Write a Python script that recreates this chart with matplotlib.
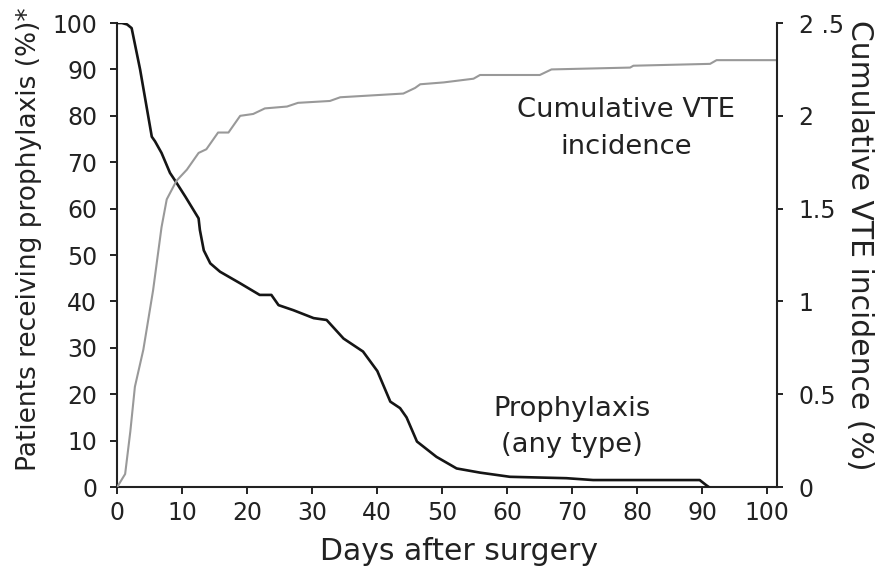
import matplotlib
matplotlib.use("Agg")
import matplotlib.pyplot as plt

# Prophylaxis (any type), % of patients (left axis)
proph_days = [0, 0.7, 1.5, 2.2, 3.5, 5.3, 5.8, 6.8, 8.1, 9.0, 10.5, 12.5, 12.7, 13.3, 14.3,
              15.8, 18.9, 21.9, 23.7, 24.8, 27.1, 30.2, 32.2, 34.8, 37.8, 40.0, 42.0, 43.5,
              44.5, 46.1, 49.1, 52.2, 55.8, 60.4, 69.1, 73.2, 80.9, 89.6, 90.6, 91.0]
proph_pct = [100, 100, 99.7, 98.9, 90, 75.5, 74.5, 72, 67.7, 65.8, 62.5, 57.9, 55.4, 51, 48.2,
             46.4, 43.9, 41.4, 41.4, 39.2, 38.1, 36.4, 36.0, 32.0, 29.2, 25, 18.4, 17.0,
             15, 9.8, 6.5, 4.0, 3.1, 2.2, 1.9, 1.5, 1.5, 1.5, 0.4, 0]

# Cumulative VTE incidence, % (right axis)
vte_days = [0, 0.15, 1.2, 2.0, 2.7, 4.0, 5.5, 6.8, 7.6, 9.1, 10.7, 12.5, 13.7, 15.5, 17.1,
            18.9, 20.9, 22.7, 26.1, 27.8, 32.7, 34.3, 44.0, 45.8, 46.6, 50.2, 54.8, 55.8,
            65.0, 66.8, 78.9, 79.4, 91.2, 92.2, 101.5]
vte_pct = [0, 0.01, 0.07, 0.3, 0.54, 0.74, 1.06, 1.40, 1.55, 1.65, 1.71, 1.80, 1.82, 1.91, 1.91,
           2.00, 2.01, 2.04, 2.05, 2.07, 2.08, 2.10, 2.12, 2.15, 2.17, 2.18, 2.20, 2.22,
           2.22, 2.25, 2.26, 2.27, 2.28, 2.30, 2.30]

x_ticks = [0, 10, 20, 30, 40, 50, 60, 70, 80, 90, 100]
left_ticks = [0, 10, 20, 30, 40, 50, 60, 70, 80, 90, 100]
right_ticks = [0, 0.5, 1, 1.5, 2, 2.5]
right_tick_labels = ["0", "0.5", "1", "1.5", "2", "2 .5"]

plt.rcParams['font.family'] = ['DejaVu Sans']

fig = plt.figure(figsize=(8.77, 5.70), dpi=100)
ax = fig.add_axes([0.1338, 0.1456, 0.886 - 0.1338, 0.9596 - 0.1456])
ax2 = ax.twinx()

spine_c = '#222222'
txt_c = '#222222'
fs_tick = 17

ax.plot(proph_days, proph_pct, color='#151515', lw=1.9, zorder=3)
ax2.plot(vte_days, vte_pct, color='#999999', lw=1.5, zorder=2)

ax.set_xlim(0, 101.5)
ax.set_ylim(0, 100)
ax2.set_ylim(0, 2.5)

ax.set_xticks(x_ticks)
ax.set_yticks(left_ticks)
ax2.set_yticks(right_ticks)
ax2.set_yticklabels(right_tick_labels)

for a in (ax, ax2):
    a.spines['top'].set_visible(False)
    for s in a.spines.values():
        s.set_color(spine_c)
        s.set_linewidth(1.5)
ax2.spines['left'].set_visible(False)
ax2.spines['bottom'].set_visible(False)
ax.spines['right'].set_visible(False)

ax.tick_params(axis='x', direction='out', length=5, width=1.4, color=spine_c,
               labelsize=fs_tick, labelcolor=txt_c, pad=5)
ax.tick_params(axis='y', direction='out', length=5, width=1.4, color=spine_c,
               labelsize=fs_tick, labelcolor=txt_c, pad=9.5)
ax2.tick_params(axis='y', direction='out', length=4.5, width=1.4, color=spine_c,
                labelsize=fs_tick, labelcolor=txt_c, pad=11)

ax.set_xlabel('Days after surgery', fontsize=21.5, color=txt_c)
ax.xaxis.label.set_va('center')
ax.xaxis.set_label_coords(0.518, -0.138)

ax.set_ylabel('Patients receiving prophylaxis (%)*', fontsize=19, color=txt_c)
ax.yaxis.label.set_va('center')
ax.yaxis.set_label_coords(-0.134, 0.534)

ax2.set_ylabel('Cumulative VTE incidence (%)', fontsize=21.5, color=txt_c, rotation=-90)
ax2.yaxis.label.set_va('center')
ax2.yaxis.set_label_coords(1.125, 0.52)

ax.text(78.3, 77.2, 'Cumulative VTE\nincidence', fontsize=19.7, color=txt_c,
        ha='center', va='center', linespacing=1.55)
ax.text(70, 12.9, 'Prophylaxis\n(any type)', fontsize=19.7, color=txt_c,
        ha='center', va='center', linespacing=1.5)

fig.savefig('out.png', dpi=100)
